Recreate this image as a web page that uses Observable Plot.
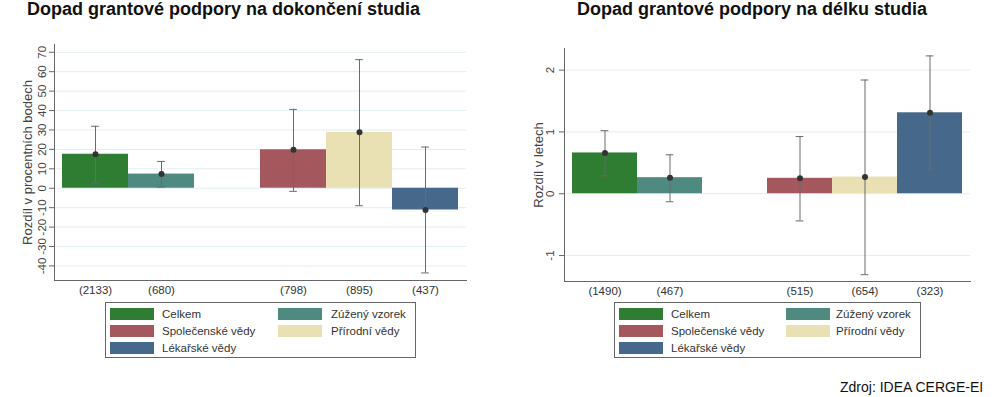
<!DOCTYPE html>
<html>
<head>
<meta charset="utf-8">
<script src="https://cdn.jsdelivr.net/npm/d3@7"></script>
<script src="https://cdn.jsdelivr.net/npm/@observablehq/plot@0.6"></script>
<style>
  html, body { margin: 0; padding: 0; background: #fff; }
  #root { position: relative; width: 1000px; height: 397px; font-family: "Liberation Sans", Arial, sans-serif; overflow: hidden; }
  .title { position: absolute; font-weight: bold; font-size: 18px; line-height: 18px; color: #111; white-space: nowrap; }
  .chart { position: absolute; top: 0; }
  .legend { position: absolute; border: 1px solid #666; box-sizing: border-box; }
  .sw { position: absolute; width: 44px; height: 12px; }
  .lt { position: absolute; font-size: 11.5px; color: #333; white-space: nowrap; line-height: 12px; }
  .source { position: absolute; font-size: 14px; color: #111; white-space: nowrap; }
</style>
</head>
<body>
<div id="root"></div>
<script>
// ---- data ----
const groups = ["Celkem", "Zúžený vzorek", "Společenské vědy", "Přírodní vědy", "Lékařské vědy"];
const colors = ["#2f7d32", "#4f8a80", "#a5575e", "#e9e0b3", "#46698b"];

const leftTitle = "Dopad grantové podpory na dokončení studia";
const leftYLabel = "Rozdíl v procentních bodech";
const leftN = ["(2133)", "(680)", "(798)", "(895)", "(437)"];
const leftValues = [17.5, 7.3, 19.8, 28.8, -11.2];
const leftLow = [2.8, 0.6, -1.6, -9.0, -43.6];
const leftHigh = [31.9, 13.8, 40.6, 66.2, 21.2];
const leftTicks = [-40, -30, -20, -10, 0, 10, 20, 30, 40, 50, 60, 70];

const rightTitle = "Dopad grantové podpory na délku studia";
const rightYLabel = "Rozdíl v letech";
const rightN = ["(1490)", "(467)", "(515)", "(654)", "(323)"];
const rightValues = [0.66, 0.26, 0.25, 0.27, 1.31];
const rightLow = [0.29, -0.13, -0.44, -1.31, 0.39];
const rightHigh = [1.02, 0.63, 0.925, 1.84, 2.23];
const rightTicks = [-1, 0, 1, 2];

const source = "Zdroj: IDEA CERGE-EI";

// ---- helpers ----
const root = document.getElementById("root");

function makeChart(cfg) {
  const rows = groups.map((g, i) => ({
    group: g, n: cfg.n[i], value: cfg.values[i], low: cfg.low[i], high: cfg.high[i]
  }));
  const GAP = "__gap__";
  const domain = [cfg.n[0], cfg.n[1], GAP, cfg.n[2], cfg.n[3], cfg.n[4]];
  const plotW = 500 - cfg.ml - cfg.mr;
  const step = plotW / (6 + 2 * cfg.pad);
  const capInset = (step - 8) / 2;
  const chart = Plot.plot({
    width: 500,
    height: 300,
    marginLeft: cfg.ml,
    marginRight: cfg.mr,
    marginTop: cfg.mt,
    marginBottom: cfg.mb,
    style: { fontFamily: '"Liberation Sans", Arial, sans-serif', fontSize: "11.5px", color: "#333", background: "transparent" },
    x: { type: "band", domain, paddingInner: 0, paddingOuter: cfg.pad, axis: null },
    y: { domain: cfg.ydomain, axis: null },
    color: { domain: groups, range: colors },
    marks: [
      Plot.gridY(cfg.ticks, { stroke: "#e3ecf0", strokeOpacity: 1 }),
      Plot.barY(rows, { x: "n", y: "value", fill: "group" }),
      Plot.ruleX(rows, { x: "n", y1: "low", y2: "high", stroke: "#6a6a6a", strokeWidth: 1 }),
      Plot.tickY(rows, { x: "n", y: "low", stroke: "#6a6a6a", insetLeft: capInset, insetRight: capInset }),
      Plot.tickY(rows, { x: "n", y: "high", stroke: "#6a6a6a", insetLeft: capInset, insetRight: capInset }),
      Plot.dot(rows, { x: "n", y: "value", r: 3, fill: "#333", stroke: null }),
      Plot.axisY(cfg.ticks, { tickSize: 5, stroke: "#666", text: null, label: null }),
      Plot.text(cfg.ticks, { y: d => d, text: d => String(d), frameAnchor: "left", dx: cfg.tickDx,
        rotate: -90, textAnchor: "middle", lineAnchor: "middle", fill: "#444", fontSize: 11.5 }),
      Plot.text([cfg.ylabel], { frameAnchor: "left", rotate: -90, dx: -cfg.labelOffset, textAnchor: "middle",
        lineAnchor: "middle", fill: "#444", fontSize: 13 }),
      Plot.axisX({ tickSize: 0, tickPadding: 5, tickFormat: d => d === GAP ? "" : d, fill: "#333", label: null }),
      Plot.frame({ anchor: "left", stroke: "#666" }),
      Plot.frame({ anchor: "bottom", stroke: "#666" })
    ]
  });
  chart.classList.add("chart");
  chart.style.left = cfg.left + "px";
  root.appendChild(chart);
}

function makeTitle(text, left, top) {
  const d = document.createElement("div");
  d.className = "title";
  d.textContent = text;
  d.style.left = left + "px";
  d.style.top = top + "px";
  root.appendChild(d);
}

function makeLegend(left, top, w, h, col2Sw, col2Txt) {
  const box = document.createElement("div");
  box.className = "legend";
  Object.assign(box.style, { left: left + "px", top: top + "px", width: w + "px", height: h + "px" });
  groups.forEach((g, i) => {
    const col = i === 4 ? 0 : i % 2;
    const row = Math.floor(i / 2);
    const y = 5 + row * 17;
    const sw = document.createElement("div");
    sw.className = "sw";
    sw.style.background = colors[i];
    sw.style.left = (col === 0 ? 4 : col2Sw) + "px";
    sw.style.top = y + "px";
    const t = document.createElement("div");
    t.className = "lt";
    t.textContent = g;
    t.style.left = (col === 0 ? 56 : col2Txt) + "px";
    t.style.top = y + "px";
    box.appendChild(sw);
    box.appendChild(t);
  });
  root.appendChild(box);
}

makeTitle(leftTitle, 27, 0);
makeTitle(rightTitle, 577, 0);

makeChart({ left: 0, n: leftN, values: leftValues, low: leftLow, high: leftHigh, ticks: leftTicks,
  ydomain: [-47.5, 74], ml: 54, mr: 34, mt: 44, mb: 20, pad: 0.106, ylabel: leftYLabel, labelOffset: 27, tickDx: -12 });
makeChart({ left: 500, n: rightN, values: rightValues, low: rightLow, high: rightHigh, ticks: rightTicks,
  ydomain: [-1.42, 2.35], ml: 64, mr: 30, mt: 48, mb: 19, pad: 0.107, ylabel: rightYLabel, labelOffset: 26, tickDx: -14 });

makeLegend(105, 302, 311, 56, 172, 225);
makeLegend(614, 302, 307, 56, 171, 221);

const s = document.createElement("div");
s.className = "source";
s.textContent = source;
s.style.left = "840px";
s.style.top = "379px";
root.appendChild(s);
</script>
</body>
</html>
